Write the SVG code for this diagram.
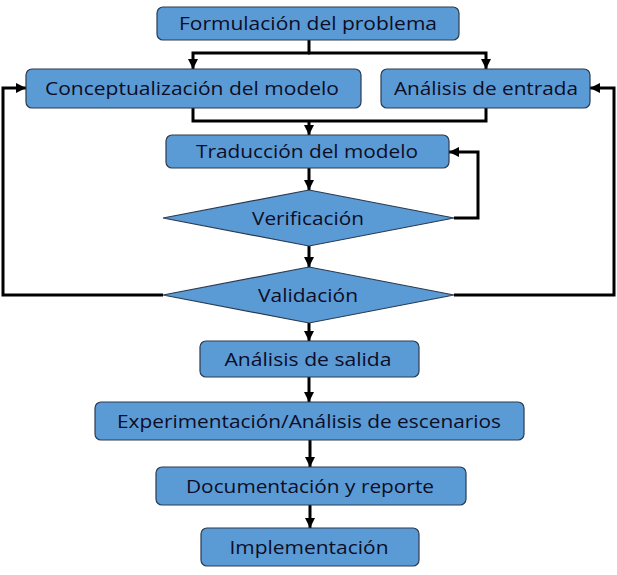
<svg xmlns="http://www.w3.org/2000/svg" width="617" height="575" viewBox="0 0 617 575">
<defs>
<marker id="ah" viewBox="0 0 10 10" refX="10" refY="5" markerWidth="3.4" markerHeight="3.4" orient="auto" markerUnits="strokeWidth">
<path d="M0,0 L10,5 L0,10 z" fill="#000"/>
</marker>
</defs>
<style>
.box{fill:#5b9bd5;stroke:#2a3a50;stroke-width:1.2}
.t{font-family:"Open Sans","Liberation Sans",sans-serif;font-size:19px;fill:#0d0d26;text-anchor:middle}
.c{fill:none;stroke:#000;stroke-width:3}
.ca{fill:none;stroke:#000;stroke-width:3;marker-end:url(#ah)}
</style>
<rect width="617" height="575" fill="#fff"/>
<g id="connectors">
<path class="c" d="M309,40 V53"/>
<path class="ca" d="M310,53 H193 V69"/>
<path class="ca" d="M308,53 H486 V69"/>
<path class="c" d="M193,108 V121 H486 V108"/>
<path class="ca" d="M309,121 V135"/>
<path class="ca" d="M309,168 V190"/>
<path class="ca" d="M454,218 H478 V152 H449"/>
<path class="ca" d="M309,246 V267"/>
<path class="ca" d="M163,295 H3 V88 H26"/>
<path class="ca" d="M454,295 H614 V88 H590"/>
<path class="ca" d="M309,323 V341"/>
<path class="ca" d="M309,377 V402"/>
<path class="ca" d="M310,440 V467"/>
<path class="ca" d="M310,505 V528"/>
</g>
<g id="n1"><rect class="box" x="157" y="7" width="302" height="33" rx="6"/><text class="t" x="308" y="30" textLength="258" lengthAdjust="spacingAndGlyphs">Formulación del problema</text></g>
<g id="n2"><rect class="box" x="26" y="69" width="335" height="39" rx="6"/><text class="t" x="192" y="95" textLength="294" lengthAdjust="spacingAndGlyphs">Conceptualización del modelo</text></g>
<g id="n3"><rect class="box" x="381" y="69" width="209" height="39" rx="6"/><text class="t" x="486" y="95" textLength="184" lengthAdjust="spacingAndGlyphs">Análisis de entrada</text></g>
<g id="n4"><rect class="box" x="166" y="135" width="283" height="33" rx="6"/><text class="t" x="307" y="158" textLength="222" lengthAdjust="spacingAndGlyphs">Traducción del modelo</text></g>
<g id="n5"><polygon class="box" points="309,190 454,218 309,246 163,218"/><text class="t" x="308" y="225" textLength="112" lengthAdjust="spacingAndGlyphs">Verificación</text></g>
<g id="n6"><polygon class="box" points="309,267 454,295 309,323 163,295"/><text class="t" x="308" y="302" textLength="100" lengthAdjust="spacingAndGlyphs">Validación</text></g>
<g id="n7"><rect class="box" x="200" y="341" width="219" height="36" rx="6"/><text class="t" x="308" y="366" textLength="167" lengthAdjust="spacingAndGlyphs">Análisis de salida</text></g>
<g id="n8"><rect class="box" x="95" y="402" width="429" height="38" rx="6"/><text class="t" x="309" y="428" textLength="384" lengthAdjust="spacingAndGlyphs">Experimentación/Análisis de escenarios</text></g>
<g id="n9"><rect class="box" x="156" y="467" width="310" height="38" rx="6"/><text class="t" x="310" y="493" textLength="248" lengthAdjust="spacingAndGlyphs">Documentación y reporte</text></g>
<g id="n10"><rect class="box" x="201" y="528" width="218" height="38" rx="6"/><text class="t" x="309" y="554" textLength="159" lengthAdjust="spacingAndGlyphs">Implementación</text></g>
</svg>
